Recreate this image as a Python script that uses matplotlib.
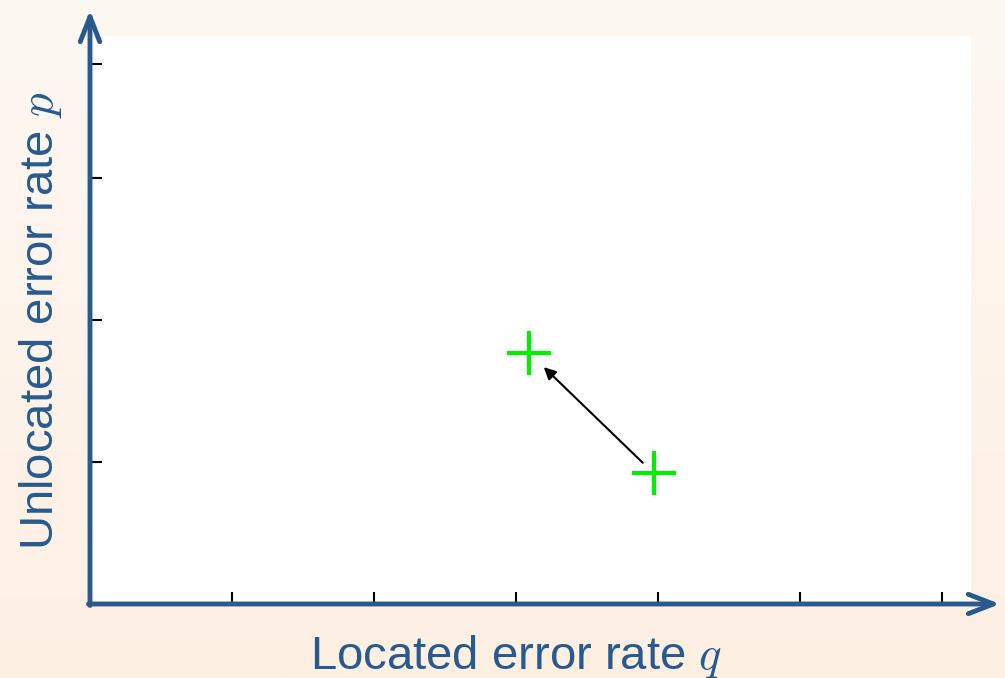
import numpy as np
import matplotlib
matplotlib.use('Agg')
import matplotlib.pyplot as plt

# Data (q = located error rate, p = unlocated error rate)
q_vals = [3.09, 3.97]
p_vals = [1.77, 0.92]
x_ticks = [1, 2, 3, 4, 5, 6]
y_ticks = [1, 2, 3, 3.8]

plt.rcParams['font.family'] = ['Liberation Sans', 'DejaVu Sans']
plt.rcParams['mathtext.fontset'] = 'cm'

blue = '#285a8e'

fig = plt.figure(figsize=(10.05, 6.78), dpi=100)

# soft peach gradient background
bg = fig.add_axes([0, 0, 1, 1], zorder=-1)
grad = np.linspace(0, 1, 256).reshape(-1, 1)
top = np.array([253, 248, 243]) / 255
bot = np.array([253, 239, 226]) / 255
img = top[None, None, :] * (1 - grad[:, :, None]) + bot[None, None, :] * grad[:, :, None]
bg.imshow(img, aspect='auto', extent=[0, 1, 0, 1])
bg.axis('off')

ax = fig.add_axes([90 / 1005, 74 / 678, 881 / 1005, 568 / 678])
ax.set_facecolor('white')
ax.set_xlim(0, 881 / 142)
ax.set_ylim(0, 4.0)

for s in ax.spines.values():
    s.set_visible(False)

ax.set_xticks(x_ticks)
ax.set_yticks(y_ticks)
ax.tick_params(direction='in', length=8.5, width=1.5, color='black',
               labelbottom=False, labelleft=False)

# axis arrows
arrow_kw = dict(arrowstyle='->,head_length=0.9,head_width=0.35', lw=3.5,
                color=blue, mutation_scale=20, shrinkA=0, shrinkB=0)
ax.annotate('', xy=(910 / 881, 0), xytext=(-1.5 / 881, 0), xycoords='axes fraction',
            arrowprops=arrow_kw, annotation_clip=False)
ax.annotate('', xy=(0, 594 / 568), xytext=(0, -1.5 / 568), xycoords='axes fraction',
            arrowprops=arrow_kw, annotation_clip=False)

# points and move arrow
ax.plot(q_vals, p_vals, linestyle='none', marker='+', markersize=32,
        markeredgewidth=3, color='#00ee00', clip_on=False)
ax.annotate('', xy=(q_vals[0], p_vals[0]), xytext=(q_vals[1], p_vals[1]),
            arrowprops=dict(arrowstyle='-|>', lw=1.5, color='black',
                            mutation_scale=18, shrinkA=11, shrinkB=15))

ax.set_xlabel('Located error rate $q$', fontsize=34, color=blue)
ax.xaxis.label.set_va('baseline')
ax.xaxis.set_label_coords(426 / 881, -65 / 568)

ax.set_ylabel('Unlocated error rate $p$', fontsize=34, color=blue,
              rotation_mode='anchor')
ax.yaxis.label.set_va('baseline')
ax.yaxis.set_label_coords(-37 / 881, 283 / 568)

fig.savefig('out.png', dpi=100)
